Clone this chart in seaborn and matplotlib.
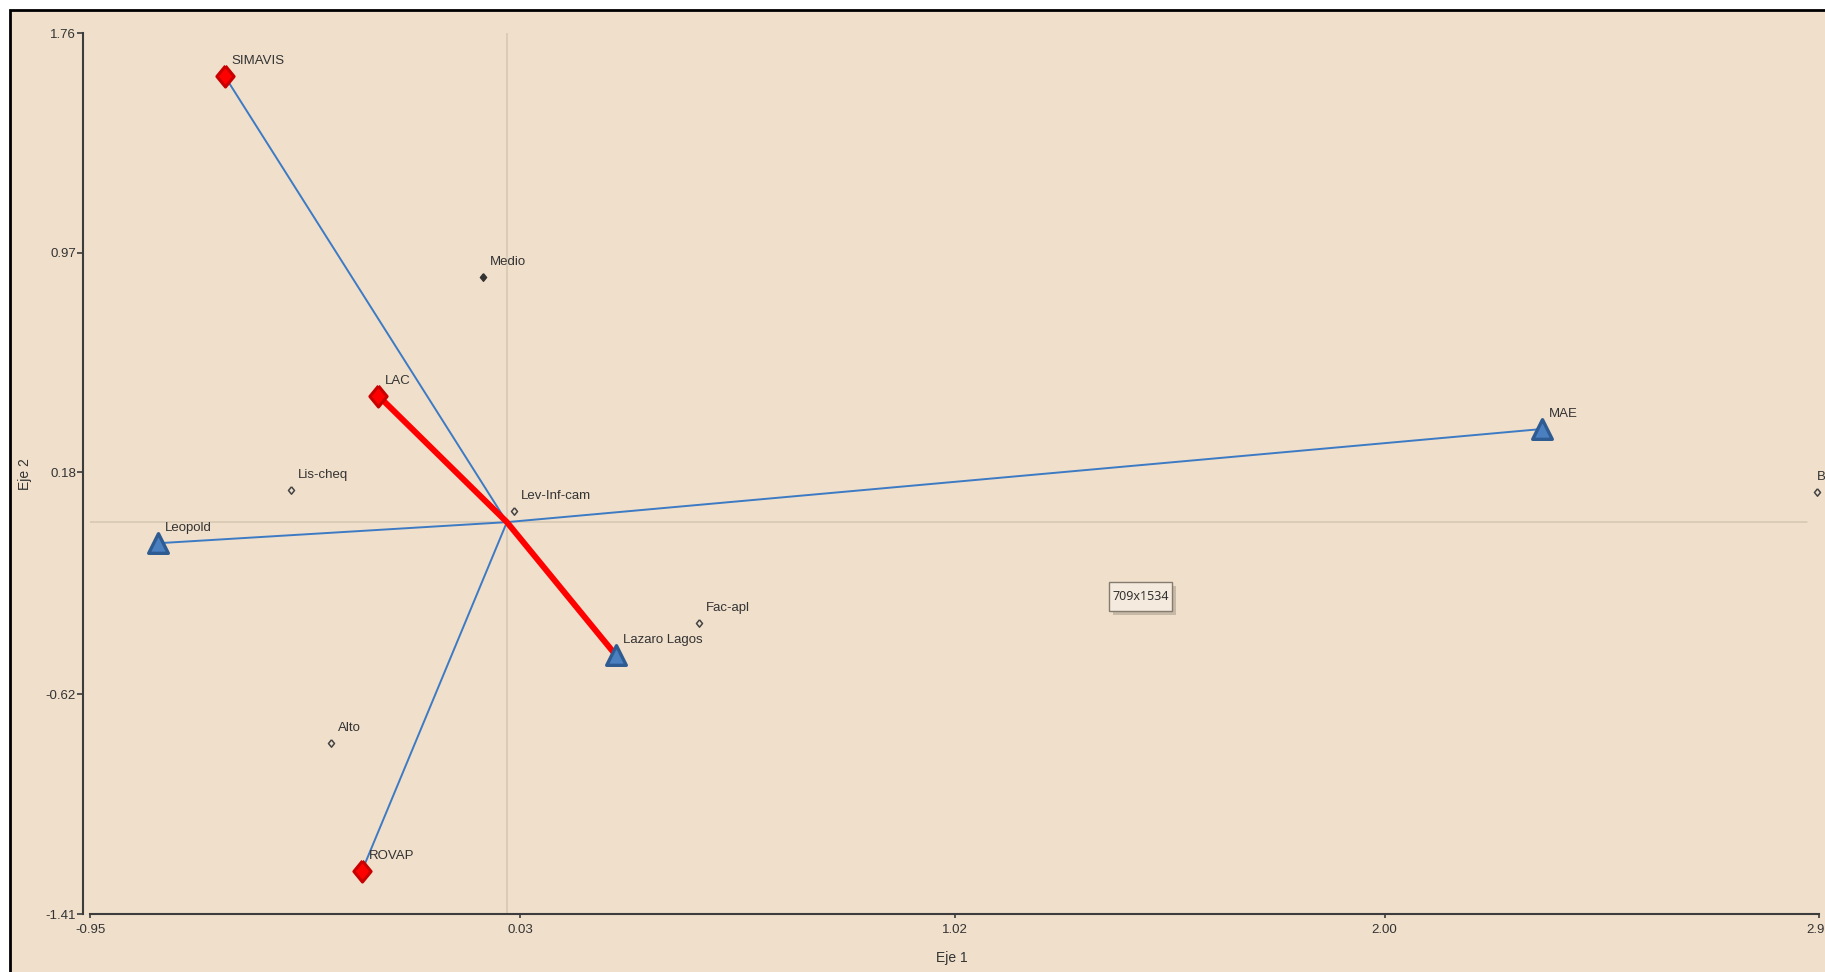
import numpy as np
import pandas as pd
import matplotlib
matplotlib.use("Agg")
import matplotlib.pyplot as plt
from matplotlib import font_manager
from matplotlib.patches import Rectangle
import seaborn as sns

# ---------------- data ----------------
red_names = ["SIMAVIS", "LAC", "ROVAP"]
red_x = [-0.643, -0.293, -0.330]
red_y = [1.605, 0.455, -1.254]

blue_names = ["Leopold", "MAE", "Lazaro Lagos"]
blue_x = [-0.796, 2.358, 0.248]
blue_y = [-0.076, 0.335, -0.478]

small_names = ["Medio", "Lis-cheq", "Lev-Inf-cam", "Fac-apl", "Alto", "Bajo"]
small_x = [-0.054, -0.493, 0.016, 0.438, -0.401, 2.985]
small_y = [0.883, 0.116, 0.041, -0.364, -0.794, 0.107]
small_filled = [True, False, False, False, False, False]

blue_links = ["SIMAVIS", "ROVAP", "Leopold", "MAE"]   # thin lines from origin
red_path = ["LAC", "Lazaro Lagos"]                    # thick line through origin

x_ticks = [-0.95, 0.03, 1.02, 2.00, 2.99]
x_tick_labels = ["-0.95", "0.03", "1.02", "2.00", "2.99"]
y_ticks = [-1.41, -0.62, 0.18, 0.97, 1.76]
y_tick_labels = ["-1.41", "-0.62", "0.18", "0.97", "1.76"]
x_label = "Eje 1"
y_label = "Eje 2"
tooltip_text = "709x1534"

# ---------------- style ----------------
sns.set_theme(style="white")
avail = {f.name for f in font_manager.fontManager.ttflist}
if "Liberation Sans Narrow" in avail:
    fam = ["Liberation Sans Narrow", "DejaVu Sans"]
    fs = 11
else:
    fam = ["Liberation Sans", "DejaVu Sans"]
    fs = 9.5
plt.rcParams["font.family"] = fam

BG = "#EFDFCB"
TXT = "#333333"
SPINE = "#3c3c3c"

W, H = 1825, 972
fig = plt.figure(figsize=(W / 100, H / 100), dpi=100, facecolor="white")

# outer black frame (extends past right/bottom edges)
fig.patches.append(Rectangle((10 / W, -0.05), 1.2, 1 - 10 / H + 0.05,
                             transform=fig.transFigure, facecolor=BG,
                             edgecolor="black", linewidth=2.0, zorder=-10))

ax_l, ax_r, ax_t, ax_b = 90, 1819, 33, 914
ax = fig.add_axes([ax_l / W, 1 - ax_b / H, (ax_r - ax_l) / W, (ax_b - ax_t) / H])
ax.set_zorder(1)
ax.set_facecolor("none")
ax.patch.set_alpha(0)
ax.set_xlim(-0.95, 2.99)
ax.set_ylim(-1.41, 1.76)

# reference lines
ax.axvline(0, color="#D6C7B3", lw=1.1, zorder=1)
ax.axhline(0, color="#D6C7B3", lw=1.1, zorder=1, xmax=0.993)

pos = {}
for n, x, y in zip(red_names, red_x, red_y):
    pos[n] = (x, y)
for n, x, y in zip(blue_names, blue_x, blue_y):
    pos[n] = (x, y)

# blue links from origin
for n in blue_links:
    px, py = pos[n]
    ax.plot([0, px], [0, py], color="#3D7AC4", lw=1.4, zorder=2, solid_capstyle="round")

# red thick path through origin
rp = [pos[red_path[0]], (0.0, 0.0), pos[red_path[1]]]
ax.plot([p[0] for p in rp], [p[1] for p in rp], color="#FF0000", lw=4.3,
        zorder=3, solid_joinstyle="round", solid_capstyle="round")

# markers
diamond = [(0, 1), (0.82, 0), (0, -1), (-0.82, 0), (0, 1)]

df_small = pd.DataFrame({"x": small_x, "y": small_y, "name": small_names, "filled": small_filled})
sns.scatterplot(data=df_small[df_small.filled], x="x", y="y", marker=diamond, s=30,
                color="#333333", edgecolor="#333333", linewidth=1.0, ax=ax, zorder=4, clip_on=False)
sns.scatterplot(data=df_small[~df_small.filled], x="x", y="y", marker=diamond, s=28,
                facecolor=BG, edgecolor="#444444", linewidth=1.1, ax=ax, zorder=4, clip_on=False)

df_red = pd.DataFrame({"x": red_x, "y": red_y, "name": red_names})
sns.scatterplot(data=df_red, x="x", y="y", marker=diamond, s=230, color="#FF0000",
                edgecolor="#C80000", linewidth=2.2, ax=ax, zorder=5, clip_on=False)

df_blue = pd.DataFrame({"x": blue_x, "y": blue_y, "name": blue_names})
sns.scatterplot(data=df_blue, x="x", y="y", marker="^", s=200, color="#4A80C0",
                edgecolor="#2E5B91", linewidth=2.4, ax=ax, zorder=5, clip_on=False)
for coll in ax.collections:
    try:
        coll.set_joinstyle("round")
    except Exception:
        pass

# point labels
for df in (df_small, df_red, df_blue):
    for _, r in df.iterrows():
        dx = 0 if r["x"] > 2.9 else 7
        ax.annotate(r["name"], (r["x"], r["y"]), xytext=(dx, 15), textcoords="offset pixels",
                    ha="left", va="center", fontsize=fs, color=TXT, zorder=6,
                    annotation_clip=False)

# axes styling
for s in ("top", "right"):
    ax.spines[s].set_visible(False)
ax.spines["left"].set_position(("outward", 5))
for s in ("left", "bottom"):
    ax.spines[s].set_color(SPINE)
    ax.spines[s].set_linewidth(1.5)
ax.set_xticks(x_ticks)
ax.set_xticklabels(x_tick_labels)
ax.set_yticks(y_ticks)
ax.set_yticklabels(y_tick_labels)
ax.tick_params(axis="x", direction="out", length=3, width=1.2, color=SPINE,
               labelsize=fs, labelcolor=TXT, pad=4, bottom=True)
ax.tick_params(axis="y", direction="out", length=4, width=1.2, color=SPINE,
               labelsize=fs, labelcolor=TXT, pad=1, left=True)
ax.grid(False)

ax.set_xlabel(x_label, fontsize=fs + 0.5, color=TXT)
ax.xaxis.label.set_va("center")
ax.xaxis.set_label_coords((952 - ax_l) / (ax_r - ax_l), (ax_b - 958) / (ax_b - ax_t))
ax.set_ylabel(y_label, fontsize=fs + 0.5, color=TXT)
ax.yaxis.label.set_va("center")
ax.yaxis.label.set_ha("center")
ax.yaxis.set_label_coords((25 - ax_l) / (ax_r - ax_l), (ax_b - 474) / (ax_b - ax_t))

# screen tooltip artifact
fig.patches.append(Rectangle((1113 / W, 1 - 615 / H), 63 / W, 29 / H, transform=fig.transFigure,
                             facecolor="#BDB09E", edgecolor="none", alpha=0.8, zorder=7))
fig.patches.append(Rectangle((1109 / W, 1 - 611 / H), 63 / W, 29 / H, transform=fig.transFigure,
                             facecolor="#F4EADD", edgecolor="#857B6E", linewidth=1.0, zorder=8))
fig.text(1140.5 / W, 1 - 596.5 / H, tooltip_text, ha="center", va="center", fontsize=9,
         color=TXT, family=["Noto Sans", "DejaVu Sans"], zorder=9)

fig.savefig("out.png", dpi=100, facecolor="white")
